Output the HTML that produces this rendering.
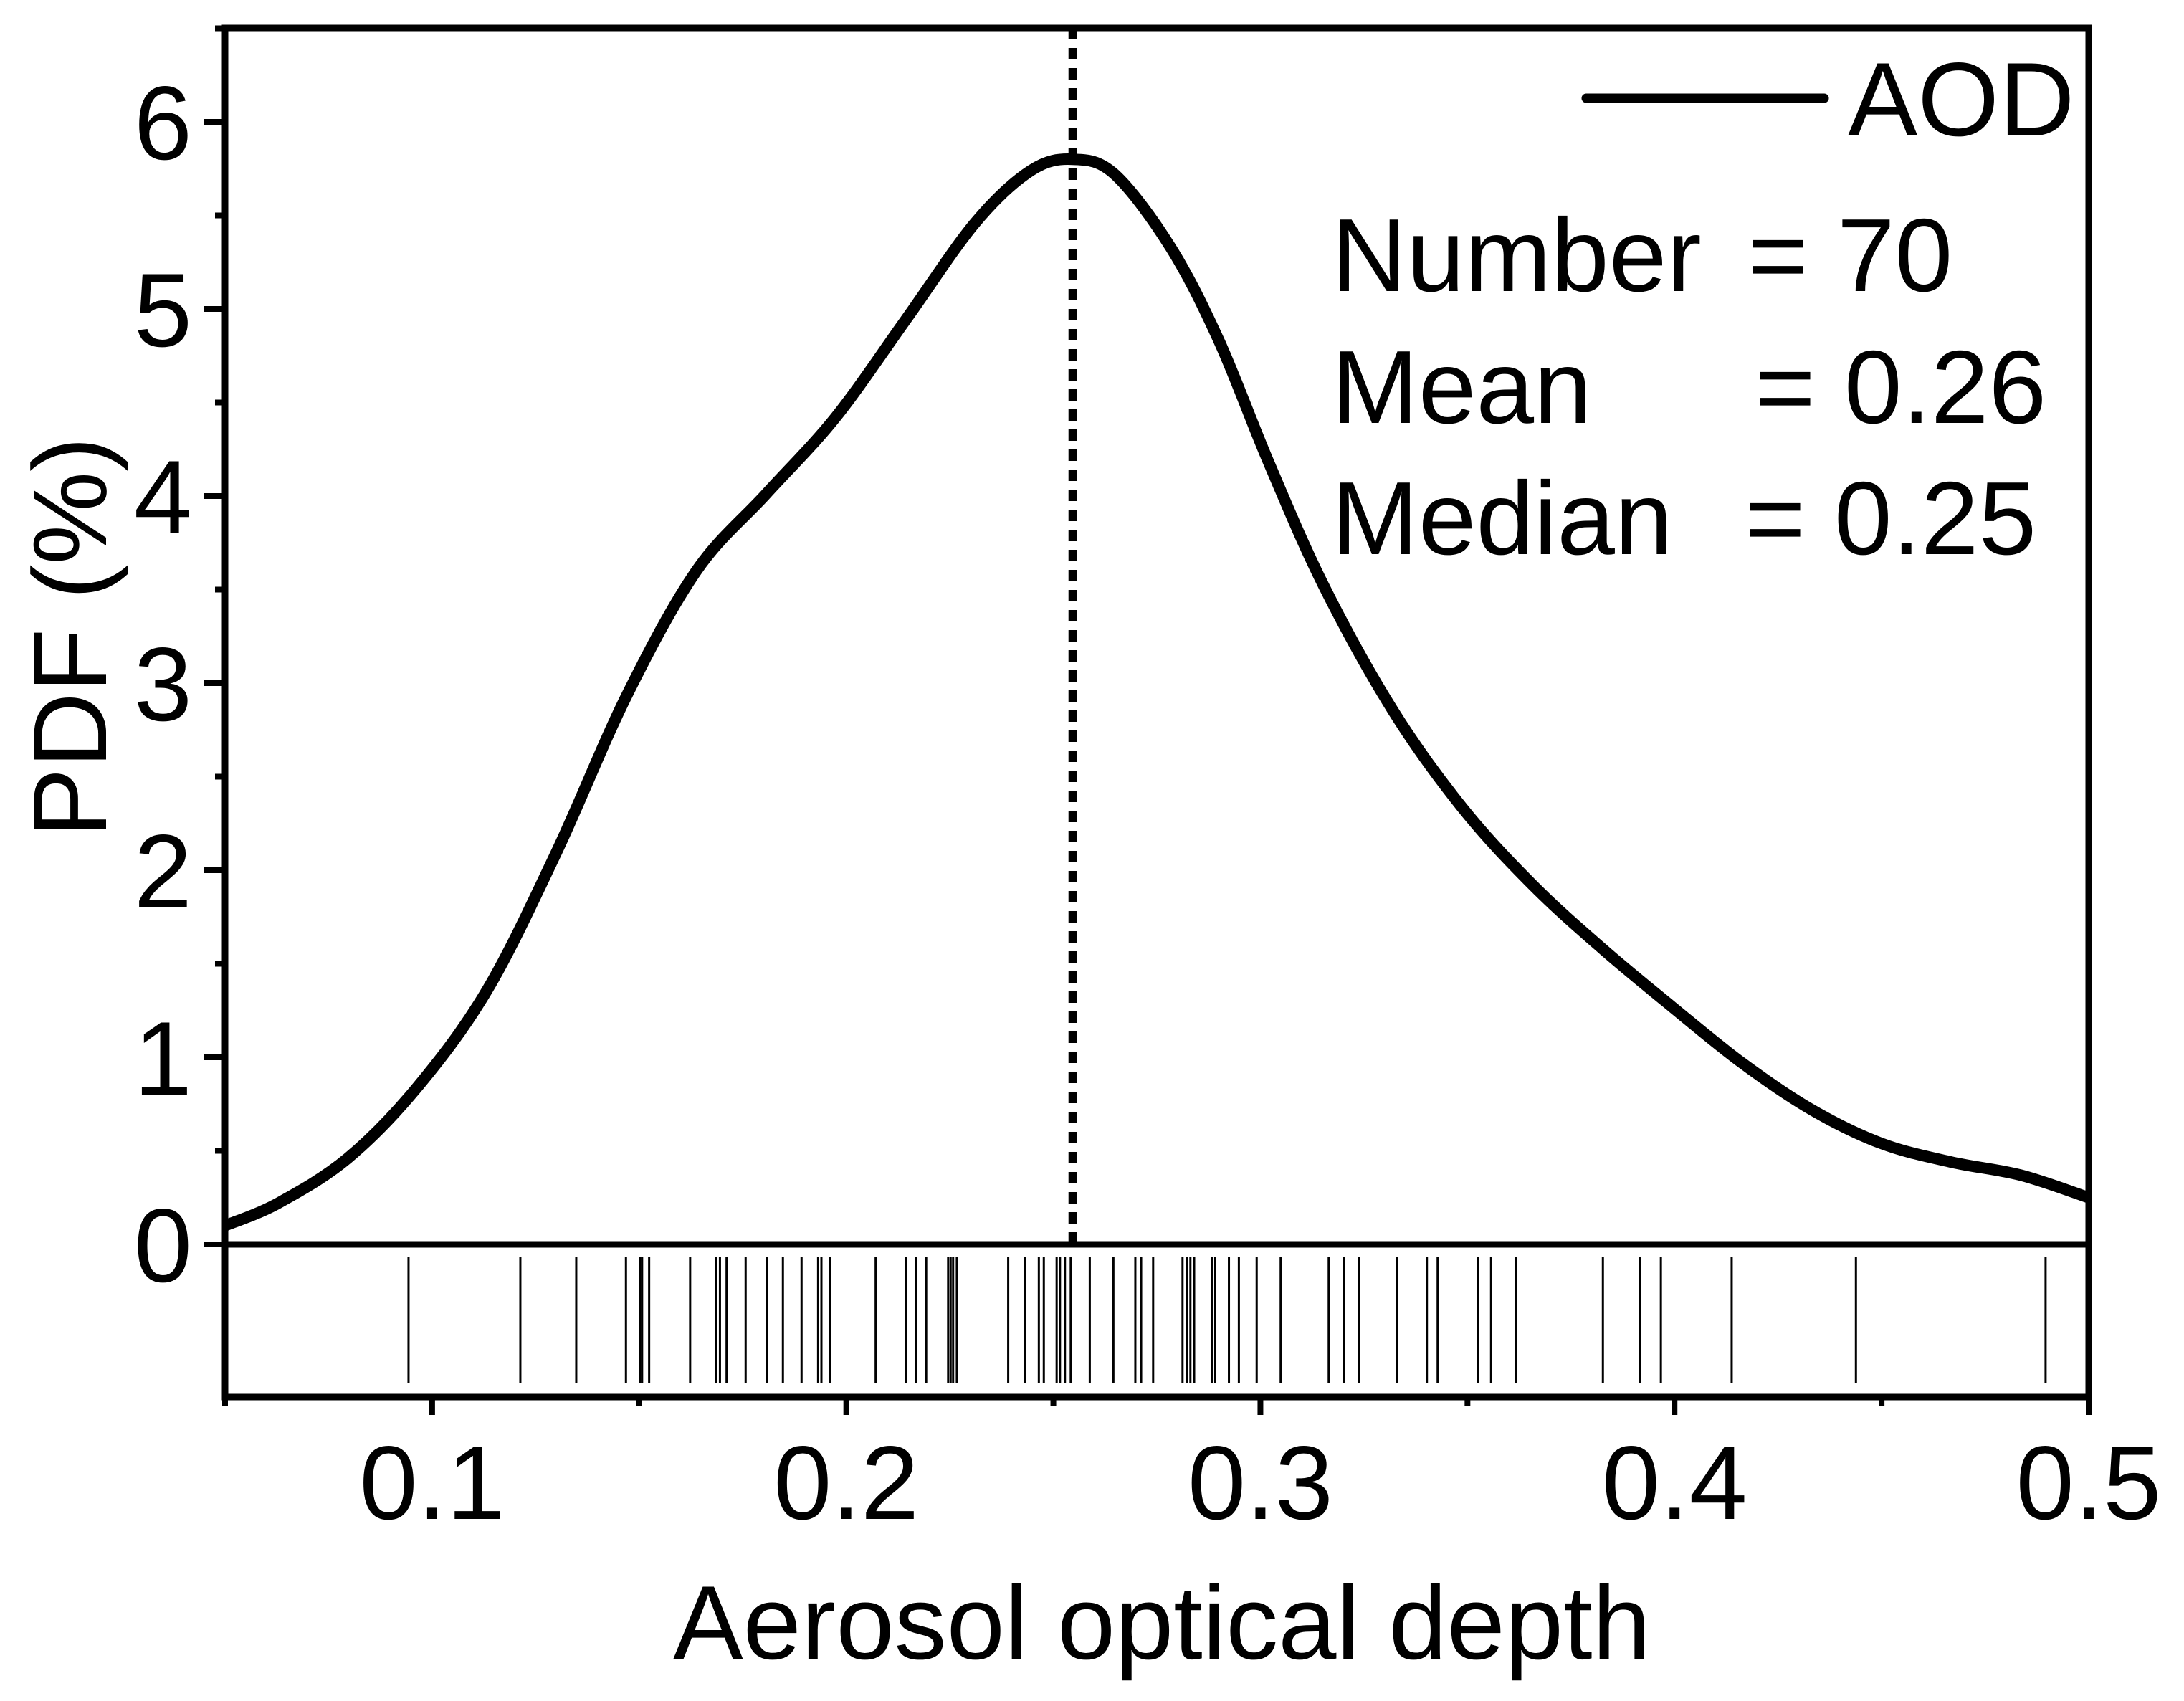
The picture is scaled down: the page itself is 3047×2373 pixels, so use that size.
<!DOCTYPE html>
<html><head><meta charset="utf-8"><style>
html,body{margin:0;padding:0;background:#fff}
svg{display:block}
text{font-family:"Liberation Sans",Arial,sans-serif;fill:#000}
</style></head><body>
<svg id="chart" width="3047" height="2373" viewBox="0 0 3047 2373" xmlns="http://www.w3.org/2000/svg">
<g id="plot"></g>
</svg>
<script>
const curveX=[0.05,0.0628,0.0796,0.0964,0.1133,0.1301,0.1469,0.1638,0.1806,0.1974,0.2143,0.2311,0.2446,0.2547,0.2648,0.2783,0.2900,0.3020,0.3153,0.3321,0.3489,0.3658,0.3826,0.3994,0.4163,0.4331,0.4499,0.4668,0.4836,0.5];
const curveY=[0.10,0.22,0.46,0.84,1.36,2.10,2.93,3.60,4.01,4.42,4.94,5.46,5.74,5.80,5.72,5.33,4.83,4.18,3.52,2.85,2.33,1.92,1.58,1.27,0.97,0.72,0.54,0.44,0.37,0.25];
const rugValues=[0.0943,0.1213,0.1348,0.1468,0.1502,0.1507,0.1524,0.1623,0.1686,0.1695,0.1711,0.1757,0.1808,0.1847,0.1892,0.1932,0.1940,0.1960,0.2071,0.2144,0.2168,0.2193,0.2246,0.2252,0.2258,0.2267,0.2391,0.2431,0.2465,0.2477,0.2508,0.2516,0.2528,0.2542,0.2588,0.2645,0.2698,0.2712,0.2741,0.2812,0.2822,0.2831,0.2840,0.2883,0.2891,0.2924,0.2948,0.2991,0.3049,0.3165,0.3202,0.3238,0.3330,0.3402,0.3428,0.3526,0.3557,0.3617,0.3827,0.3916,0.3967,0.4138,0.4438,0.4896];
const medianValue=[0.2547];
const xTicks=[0.1,0.2,0.3,0.4,0.5];
const xTickLabels=["0.1","0.2","0.3","0.4","0.5"];
const yTicks=[0,1,2,3,4,5,6];
const yTickLabels=["0","1","2","3","4","5","6"];

const NS="http://www.w3.org/2000/svg";
const g=document.getElementById('plot');
const X0=314,X1=2914,YTOP=39,Y0=1736,RUGB=1949;
const xs=v=>X0+(v-0.05)*(X1-X0)/0.45;
const ys=v=>Y0-v*261;
function mk(tag,attrs,parent){const e=document.createElementNS(NS,tag);for(const k in attrs)e.setAttribute(k,attrs[k]);(parent||g).appendChild(e);return e;}

rugValues.forEach(v=>{
  const l=mk('line',{x1:xs(v),x2:xs(v),y1:1753,y2:1929,stroke:'#000','stroke-width':3});
  
  
});
function smooth(){const p=curveX.map((v,i)=>[xs(v),ys(curveY[i])]);let s='M'+p[0][0]+','+p[0][1];
 for(let i=0;i<p.length-1;i++){const p0=p[i-1]||p[i],p1=p[i],p2=p[i+1],p3=p[i+2]||p2;
  s+=`C${p1[0]+(p2[0]-p0[0])/6},${p1[1]+(p2[1]-p0[1])/6} ${p2[0]-(p3[0]-p1[0])/6},${p2[1]-(p3[1]-p1[1])/6} ${p2[0]},${p2[1]}`;}return s;}
const c=mk('path',{d:smooth(),fill:'none',stroke:'#000','stroke-width':16,'stroke-linejoin':'round'});


const m=mk('line',{x1:xs(medianValue[0]),x2:xs(medianValue[0]),y1:YTOP,y2:Y0,stroke:'#000','stroke-width':12,'stroke-dasharray':'16,12'});


const fr=mk('rect',{x:X0,y:YTOP,width:X1-X0,height:RUGB-YTOP,fill:'none',stroke:'#000','stroke-width':9});


const zl=mk('line',{x1:X0,x2:X1,y1:Y0,y2:Y0,stroke:'#000','stroke-width':9});


for(let v=0.05;v<=0.5001;v+=0.05){const major=Math.abs(v*10-Math.round(v*10))<0.01;
 const t=mk('line',{x1:xs(v),x2:xs(v),y1:RUGB,y2:RUGB+(major?25:13),stroke:'#000','stroke-width':8});
 
 }
xTicks.forEach((v,i)=>{const t=mk('text',{x:xs(v),y:2119,'font-size':146,'text-anchor':'middle'});t.textContent=xTickLabels[i];
 
 });
for(let v=0;v<=6.5001;v+=0.5){const major=Math.abs(v-Math.round(v))<0.01;
 const t=mk('line',{x1:X0,x2:X0-(major?30:14),y1:ys(v),y2:ys(v),stroke:'#000','stroke-width':8});
 
 }
yTicks.forEach((v,i)=>{const t=mk('text',{x:268,y:ys(v)+52,'font-size':146,'text-anchor':'end'});t.textContent=yTickLabels[i];
 
 });
</script>
<svg style="position:absolute;left:0;top:0" width="3047" height="2373" viewBox="0 0 3047 2373" xmlns="http://www.w3.org/2000/svg">
<text x="1621" y="2314" font-size="146" text-anchor="middle">Aerosol optical depth</text>
<text transform="translate(148,889) rotate(-90)" font-size="146" text-anchor="middle">PDF (%)</text>
<line x1="2213" y1="137" x2="2545" y2="137" stroke="#000" stroke-width="13" stroke-linecap="round"/>
<text x="2578" y="189" font-size="146">AOD</text>
<text x="1858" y="406" font-size="145">Number</text>
<text x="2438" y="406" font-size="145">= 70</text>
<text x="1858" y="590" font-size="145">Mean</text>
<text x="2448" y="590" font-size="145">= 0.26</text>
<text x="1858" y="773" font-size="145">Median</text>
<text x="2434" y="773" font-size="145">= 0.25</text>
</svg>
</body></html>
